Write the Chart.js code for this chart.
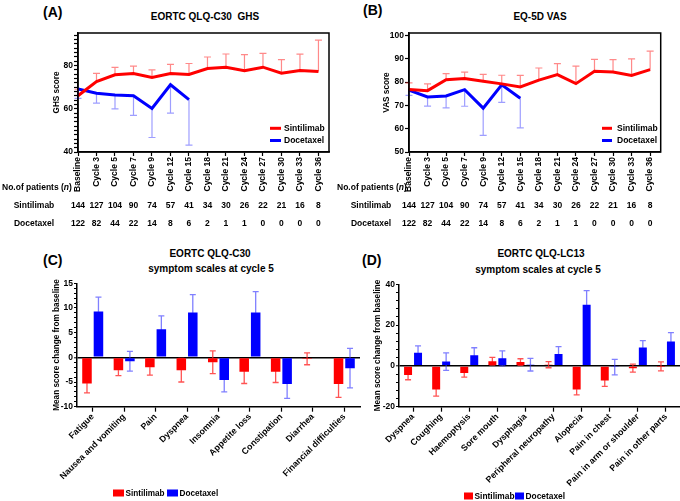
<!DOCTYPE html>
<html>
<head>
<meta charset="utf-8">
<script src="https://cdn.jsdelivr.net/npm/chart.js@4.4.1/dist/chart.umd.min.js"></script>
<style>
html, body { margin: 0; padding: 0; background: #fff; width: 680px; height: 501px; overflow: hidden; position: relative;
  font-family: "Liberation Sans", Arial, sans-serif; font-weight: bold; color: #000; }
canvas { position: absolute; }
.t { position: absolute; white-space: pre; text-align: center; }
.lt { position: absolute; white-space: pre; font-size: 14px; line-height: 16px; }
</style>
</head>
<body>
<div class="lt" style="left:43px;top:4px">(A)</div>
<div class="t" style="left:105px;width:200px;top:11px;font-size:10px;line-height:12px">EORTC QLQ-C30  GHS</div>
<div class="lt" style="left:363px;top:2px">(B)</div>
<div class="t" style="left:440px;width:200px;top:11px;font-size:10px;line-height:12px">EQ-5D VAS</div>
<div class="lt" style="left:43px;top:252px">(C)</div>
<div class="t" style="left:110px;width:200px;top:248px;font-size:10px;line-height:12px">EORTC QLQ-C30</div>
<div class="t" style="left:111px;width:200px;top:263px;font-size:10px;line-height:12px">symptom scales at cycle 5</div>
<div class="lt" style="left:362px;top:252px">(D)</div>
<div class="t" style="left:441px;width:200px;top:248px;font-size:10px;line-height:12px">EORTC QLQ-LC13</div>
<div class="t" style="left:438px;width:200px;top:264px;font-size:10px;line-height:12px">symptom scales at cycle 5</div>

<canvas id="cA" width="340" height="240" style="left:0;top:0"></canvas>
<canvas id="cB" width="350" height="240" style="left:330px;top:0"></canvas>
<canvas id="cC" width="400" height="256" style="left:0;top:245px"></canvas>
<canvas id="cD" width="340" height="256" style="left:340px;top:245px"></canvas>

<script>
// categorie e valori
const cycles = ['Baseline', 'Cycle 3', 'Cycle 5', 'Cycle 7', 'Cycle 9', 'Cycle 12', 'Cycle 15',
  'Cycle 18', 'Cycle 21', 'Cycle 24', 'Cycle 27', 'Cycle 30', 'Cycle 33', 'Cycle 36'];

const ghsSint = [66.0, 72.6, 75.7, 76.3, 74.5, 76.3, 75.8, 78.6, 79.2, 77.6, 79.2, 76.4, 77.7, 77.2];
const ghsSintErr = [3.0, 3.7, 3.4, 3.4, 3.5, 4.2, 5.1, 5.3, 6.1, 7.4, 6.4, 6.3, 7.5, 14.5];
const ghsDoce = [69.1, 67.2, 66.3, 66.0, 60.1, 71.1, 64.2];
const ghsDoceErr = [4.3, 4.6, 6.4, 9.1, 13.4, 13.1, 21.0];

const vasSint = [76.8, 76.3, 81.0, 81.5, 80.3, 79.2, 77.9, 80.8, 83.2, 79.3, 84.6, 84.3, 82.8, 85.3];
const vasSintErr = [2.8, 2.9, 2.6, 2.7, 3.0, 3.7, 4.9, 5.2, 4.7, 7.5, 5.1, 5.3, 7.1, 7.9];
const vasDoce = [76.5, 73.6, 74.0, 76.7, 68.8, 78.8, 73.0];
const vasDoceErr = [2.2, 3.9, 5.1, 7.1, 11.7, 7.5, 12.7];

const sintN = [144, 127, 104, 90, 74, 57, 41, 34, 30, 26, 22, 21, 16, 8];
const doceN = [122, 82, 44, 22, 14, 8, 6, 2, 1, 1, 0, 0, 0, 0];

const c30Cats = ['Fatigue', 'Nausea and vomiting', 'Pain', 'Dyspnea', 'Insomnia', 'Appetite loss',
  'Constipation', 'Diarrhea', 'Financial difficulties'];
const c30Sint = [-5.3, -2.6, -2.0, -2.6, -1.0, -2.9, -2.9, -0.3, -5.4];
const c30SintErr = [1.9, 1.1, 1.6, 2.4, 2.3, 2.4, 2.2, 1.2, 2.7];
const c30Doce = [9.3, -0.8, 5.7, 9.1, -4.6, 9.1, -5.4, null, -2.2];
const c30DoceErr = [2.9, 2.0, 2.7, 3.6, 2.4, 4.2, 2.9, 0, 4.0];

const lc13Cats = ['Dyspnea', 'Coughing', 'Haemoptysis', 'Sore mouth', 'Dysphagia', 'Peripheral neuropathy',
  'Alopecia', 'Pain in chest', 'Pain in arm or shoulder', 'Pain in other parts'];
const lc13Sint = [-4.4, -11.6, -3.5, 2.3, 1.9, 0.6, -11.6, -7.1, -1.1, -0.2];
const lc13SintErr = [2.4, 3.2, 2.0, 1.9, 1.6, 1.5, 2.6, 2.9, 2.0, 2.2];
const lc13Doce = [6.5, 2.1, 5.2, 3.7, 0.6, 5.8, 30.0, -0.6, 9.0, 11.9];
const lc13DoceErr = [3.3, 4.3, 3.7, 3.7, 3.1, 3.6, 6.9, 3.8, 3.4, 4.4];

const FAM = '"Liberation Sans", Arial, sans-serif';
Chart.defaults.font.family = FAM;
Chart.defaults.font.weight = 'bold';
Chart.defaults.color = '#000';
Chart.defaults.animation = false;

// barre d'errore, cornice, legenda e tabella pazienti
const extras = {
  id: 'extras',
  beforeDatasetsDraw(chart, args, opts) {
    const ctx = chart.ctx;
    const ys = chart.scales.y;
    chart.data.datasets.forEach((ds, i) => {
      if (!ds.errors) return;
      const meta = chart.getDatasetMeta(i);
      ctx.save();
      ctx.strokeStyle = ds.errorColor;
      ctx.lineWidth = opts.errWidth || 1.2;
      meta.data.forEach((el, j) => {
        const raw = ds.data[j];
        const v = raw !== null && typeof raw === 'object' ? raw.y : raw;
        const e = ds.errors[j];
        if (v == null || !e) return;
        const x = el.x;
        const y0 = ys.getPixelForValue(v);
        const ends = ds.errorDir ? [v + ds.errorDir * e] : [v + e, v - e];
        ends.forEach(end => {
          const py = ys.getPixelForValue(end);
          ctx.beginPath();
          ctx.moveTo(x, y0);
          ctx.lineTo(x, py);
          ctx.moveTo(x - opts.cap, py);
          ctx.lineTo(x + opts.cap, py);
          ctx.stroke();
        });
      });
      ctx.restore();
    });
  },
  afterDraw(chart, args, opts) {
    const ctx = chart.ctx;
    const a = chart.chartArea;
    ctx.save();
    if (opts.frame) {
      ctx.strokeStyle = '#000';
      ctx.lineWidth = 1.5;
      ctx.strokeRect(a.left, a.top, a.right - a.left, a.bottom - a.top);
    }
    ctx.textBaseline = 'middle';
    if (opts.lineLegend) {
      const L = opts.lineLegend;
      chart.data.datasets.forEach((ds, i) => {
        ctx.strokeStyle = ds.borderColor;
        ctx.lineWidth = 3;
        ctx.beginPath();
        ctx.moveTo(L.x1, L.ys[i]);
        ctx.lineTo(L.x2, L.ys[i]);
        ctx.stroke();
        ctx.fillStyle = '#000';
        ctx.font = 'bold 8.5px ' + FAM;
        ctx.textAlign = 'left';
        ctx.fillText(ds.label, L.tx, L.ys[i]);
      });
    }
    if (opts.boxLegend) {
      const L = opts.boxLegend;
      ctx.font = 'bold ' + L.size + 'px ' + FAM;
      ctx.textAlign = 'left';
      chart.data.datasets.forEach((ds, i) => {
        ctx.fillStyle = ds.backgroundColor;
        ctx.fillRect(L.xs[i], L.y - L.h / 2, L.w, L.h);
        ctx.fillStyle = '#000';
        ctx.fillText(ds.label, L.xs[i] + L.w + 1.5, L.y + 0.5);
      });
    }
    if (opts.table) {
      const T = opts.table;
      const xs = chart.scales.x;
      let hx = T.hx;
      ctx.textAlign = 'left';
      ctx.fillStyle = '#000';
      [['No.of patients (', 'bold'], ['n', 'italic bold'], [')', 'bold']].forEach(([t, st]) => {
        ctx.font = st + ' 8.5px ' + FAM;
        ctx.fillText(t, hx, T.ys[0]);
        hx += ctx.measureText(t).width;
      });
      ctx.font = 'bold 8.5px ' + FAM;
      ctx.textAlign = 'center';
      T.rows.forEach((row, r) => {
        ctx.fillText(row.label, T.labelX, T.ys[r + 1]);
        row.values.forEach((n, k) => ctx.fillText(String(n), xs.getPixelForValue(k), T.ys[r + 1]));
      });
    }
    ctx.restore();
  }
};
Chart.register(extras);

function pts(vals) {
  return vals.map((v, i) => ({ x: i, y: v }));
}

function rangeTicks(min, max, step) {
  const t = [];
  for (let v = min; v <= max + 1e-9; v += step) t.push({ value: v });
  return t;
}

function lineChart(id, sint, sintErr, doce, doceErr, cfg) {
  return new Chart(document.getElementById(id), {
    type: 'line',
    data: {
      datasets: [
        { label: 'Sintilimab', data: pts(sint), errors: sintErr, errorDir: 1, borderColor: '#ff0000',
          errorColor: 'rgba(255,40,40,0.55)', borderWidth: 3, pointRadius: 0, tension: 0 },
        { label: 'Docetaxel', data: pts(doce), errors: doceErr, errorDir: -1, borderColor: '#0000ff',
          errorColor: 'rgba(40,40,255,0.45)', borderWidth: 3, pointRadius: 0, tension: 0 }
      ]
    },
    options: {
      responsive: false,
      layout: { padding: { left: cfg.padL, right: cfg.padR, top: 33, bottom: 48 } },
      plugins: {
        legend: { display: false },
        tooltip: { enabled: false },
        extras: {
          cap: 3.5, errWidth: 1.2, frame: true,
          lineLegend: cfg.legend,
          table: { hx: cfg.hx, labelX: cfg.labelX, ys: [188, 206, 224],
            rows: [{ label: 'Sintilimab', values: sintN }, { label: 'Docetaxel', values: doceN }] }
        }
      },
      scales: {
        x: {
          type: 'linear', min: 0, max: 13.57,
          afterBuildTicks: s => { s.ticks = cycles.map((c, i) => ({ value: i })); },
          afterFit: s => { s.height = 40; },
          ticks: { callback: v => cycles[v], autoSkip: false, maxRotation: 90, minRotation: 90, padding: 1,
            font: { size: 8.5 } },
          grid: { drawOnChartArea: false, tickLength: 4, tickColor: '#000', tickWidth: 1.2 },
          border: { color: '#000', width: 1.5 }
        },
        y: {
          min: cfg.min, max: cfg.max,
          afterBuildTicks: s => { s.ticks = rangeTicks(cfg.min, cfg.max - 1, cfg.step); },
          afterFit: s => { s.width = cfg.yW; },
          ticks: { autoSkip: false, padding: 1, font: { size: 8.5 },
            callback: v => (v % cfg.major === 0 ? v : '') },
          grid: { drawOnChartArea: false, tickLength: 4, tickColor: '#000', tickWidth: 1.2 },
          border: { color: '#000', width: 1.5 },
          title: { display: true, text: cfg.title, padding: 0, font: { size: 8.2 } }
        }
      }
    }
  });
}

function barChart(id, cats, sint, sintErr, doce, doceErr, cfg) {
  return new Chart(document.getElementById(id), {
    type: 'bar',
    data: {
      labels: cats,
      datasets: [
        { label: 'Sintilimab', data: sint, errors: sintErr, errorDir: 0, backgroundColor: '#ff0000',
          errorColor: 'rgba(255,40,40,0.8)' },
        { label: 'Docetaxel', data: doce, errors: doceErr, errorDir: 0, backgroundColor: '#0000ff',
          errorColor: 'rgba(60,60,255,0.65)' }
      ]
    },
    options: {
      responsive: false,
      datasets: { bar: { categoryPercentage: cfg.catPct, barPercentage: cfg.barPct } },
      layout: { padding: { left: cfg.padL, right: cfg.padR, top: cfg.padT, bottom: 14.3 } },
      plugins: {
        legend: { display: false },
        tooltip: { enabled: false },
        extras: { cap: 3, errWidth: 1.3, boxLegend: cfg.legend }
      },
      scales: {
        x: {
          afterFit: s => { s.height = 80; },
          ticks: { autoSkip: false, maxRotation: 45, minRotation: 45, padding: 0, font: { size: 8.8 } },
          grid: { drawOnChartArea: false, offset: false, tickLength: 5, tickColor: '#000', tickWidth: 1.2 },
          border: { color: '#000', width: 1.5 }
        },
        y: {
          min: cfg.min, max: cfg.max,
          afterBuildTicks: s => { s.ticks = rangeTicks(cfg.min, cfg.max, cfg.step); },
          afterFit: s => { s.width = cfg.yW; },
          ticks: { autoSkip: false, padding: 1, font: { size: 8.5 },
            callback: v => (v % cfg.major === 0 ? v : '') },
          grid: {
            color: c => (c.tick && c.tick.value === 0 ? '#000' : 'rgba(0,0,0,0)'),
            lineWidth: c => (c.tick && c.tick.value === 0 ? 1.6 : 1),
            tickLength: cfg.tickLen, tickColor: '#000', tickWidth: 1
          },
          border: { color: '#000', width: 1.5 },
          title: { display: true, text: 'Mean score change from baseline', padding: 0, font: { size: 8.2 } }
        }
      }
    }
  });
}

lineChart('cA', ghsSint, ghsSintErr, ghsDoce, ghsDoceErr, {
  padL: 52, yW: 26, padR: 11, min: 40, max: 95, step: 2, major: 20, title: 'GHS score',
  legend: { x1: 270, x2: 281, tx: 284, ys: [128.3, 140.5] }, hx: 2, labelX: 34
});

lineChart('cB', vasSint, vasSintErr, vasDoce, vasDoceErr, {
  padL: 52, yW: 27, padR: 19.3, min: 50, max: 101, step: 10, major: 10, title: 'VAS score',
  legend: { x1: 272, x2: 282, tx: 287, ys: [128.3, 140.5] }, hx: 7, labelX: 41
});

barChart('cC', c30Cats, c30Sint, c30SintErr, c30Doce, c30DoceErr, {
  padL: 52, yW: 25, padR: 40, padT: 38.3, min: -10, max: 15, step: 1, major: 5, tickLen: 3,
  catPct: 0.73, barPct: 0.83,
  legend: { xs: [113, 167], y: 248, w: 11, h: 7, size: 8.2 }
});

barChart('cD', lc13Cats, lc13Sint, lc13SintErr, lc13Doce, lc13DoceErr, {
  padL: 33, yW: 26, padR: 0, padT: 39.3, min: -20, max: 40, step: 4, major: 20, tickLen: 3,
  catPct: 0.71, barPct: 0.8,
  legend: { xs: [124, 175], y: 251, w: 9, h: 7, size: 8.4 }
});
</script>
</body>
</html>
